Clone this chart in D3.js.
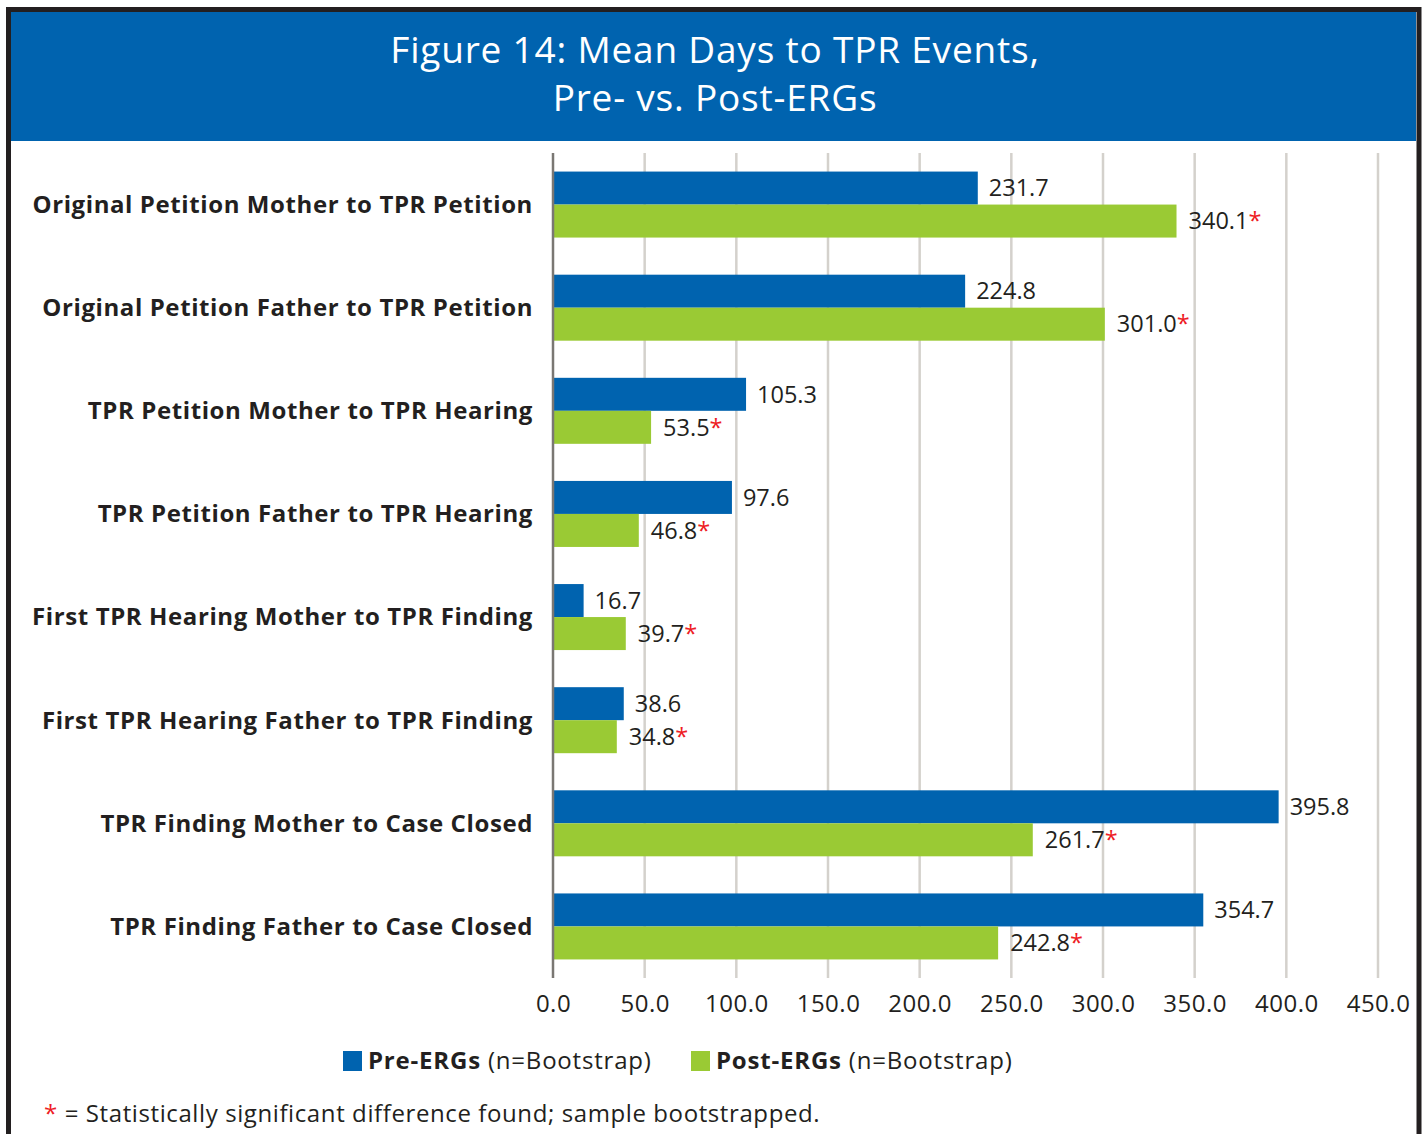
<!DOCTYPE html>
<html>
<head>
<meta charset="utf-8">
<script src="https://cdn.jsdelivr.net/npm/d3@7"></script>
<style>
  body { margin: 0; background: #fff; }
  text { font-family: "Open Sans", sans-serif; }
</style>
</head>
<body>
<svg width="1427" height="1134"></svg>
<script>
const categories = [
  "Original Petition Mother to TPR Petition",
  "Original Petition Father to TPR Petition",
  "TPR Petition Mother to TPR Hearing",
  "TPR Petition Father to TPR Hearing",
  "First TPR Hearing Mother to TPR Finding",
  "First TPR Hearing Father to TPR Finding",
  "TPR Finding Mother to Case Closed",
  "TPR Finding Father to Case Closed"
];
const preValues = [231.7, 224.8, 105.3, 97.6, 16.7, 38.6, 395.8, 354.7];
const postValues = [340.1, 301.0, 53.5, 46.8, 39.7, 34.8, 261.7, 242.8];
const postSignificant = [true, true, true, true, true, true, true, true];
const seriesNames = ["Pre-ERGs", "Post-ERGs"];
const xTicks = [0, 50, 100, 150, 200, 250, 300, 350, 400, 450];

const blue = "#0063af";
const green = "#9aca34";
const red = "#ee1c25";
const ink = "#231f20";
const width = 1427, height = 1134;
const margin = { top: 153, right: 49, bottom: 156, left: 553 };

const svg = d3.select("svg");

// frame + header
svg.append("rect").attr("x", 8.5).attr("y", 9.5).attr("width", 1410.5).attr("height", 1200)
  .attr("fill", "#fff").attr("stroke", ink).attr("stroke-width", 5);
svg.append("rect").attr("x", 11).attr("y", 12).attr("width", 1405).attr("height", 129).attr("fill", blue);
svg.append("text").attr("x", 715).attr("y", 63).attr("text-anchor", "middle").attr("letter-spacing", 0.8)
  .attr("fill", "#fff").attr("font-size", 37).text("Figure 14: Mean Days to TPR Events,");
svg.append("text").attr("x", 715).attr("y", 111).attr("text-anchor", "middle").attr("letter-spacing", 0.8)
  .attr("fill", "#fff").attr("font-size", 37).text("Pre- vs. Post-ERGs");

const x = d3.scaleLinear().domain([0, 450]).range([margin.left, width - margin.right]);
const y = d3.scaleBand().domain(categories).range([margin.top, height - margin.bottom]).paddingInner(0.36).paddingOuter(0.18);
const sub = d3.scaleBand().domain(seriesNames).range([0, y.bandwidth()]);

// gridlines
svg.append("g").selectAll("line").data(xTicks.slice(1)).enter().append("line")
  .attr("x1", d => x(d)).attr("x2", d => x(d))
  .attr("y1", margin.top).attr("y2", height - margin.bottom)
  .attr("stroke", "#d4d1cc").attr("stroke-width", 2.5);

// x tick labels
const xAxis = d3.axisBottom(x).tickValues(xTicks).tickFormat(d3.format(".1f")).tickSize(0).tickPadding(17);
const gx = svg.append("g").attr("transform", `translate(0,${height - margin.bottom})`).call(xAxis);
gx.select(".domain").remove();
gx.selectAll("text").attr("font-size", 24).attr("letter-spacing", 0.5).attr("fill", ink)
  .attr("font-family", "Open Sans, sans-serif");

const rows = categories.map((c, i) => ({ c, pre: preValues[i], post: postValues[i], sig: postSignificant[i] }));

const g = svg.append("g").selectAll("g").data(rows).enter().append("g")
  .attr("transform", d => `translate(0,${y(d.c)})`);

g.append("rect").attr("x", x(0)).attr("y", sub("Pre-ERGs"))
  .attr("width", d => x(d.pre) - x(0)).attr("height", sub.bandwidth()).attr("fill", blue);
g.append("rect").attr("x", x(0)).attr("y", sub("Post-ERGs"))
  .attr("width", d => x(d.post) - x(0)).attr("height", sub.bandwidth()).attr("fill", green);

g.append("text").attr("x", d => x(d.pre) + 11).attr("y", sub("Pre-ERGs") + sub.bandwidth() / 2)
  .attr("dy", "0.35em").attr("font-size", 23.5).attr("fill", ink).text(d => d.pre.toFixed(1));
const post = g.append("text").attr("x", d => x(d.post) + 12).attr("y", sub("Post-ERGs") + sub.bandwidth() / 2)
  .attr("dy", "0.35em").attr("font-size", 23.5).attr("fill", ink);
post.append("tspan").text(d => d.post.toFixed(1));
post.append("tspan").attr("fill", red).text(d => d.sig ? "*" : "");

// category labels
g.append("text").attr("x", margin.left - 20).attr("y", y.bandwidth() / 2)
  .attr("dy", "0.35em").attr("text-anchor", "end").attr("font-size", 24).attr("font-weight", "bold")
  .attr("letter-spacing", 0.6).attr("fill", ink).text(d => d.c);

// axis line
svg.append("line").attr("x1", x(0)).attr("x2", x(0)).attr("y1", margin.top).attr("y2", height - margin.bottom)
  .attr("stroke", "#7a7773").attr("stroke-width", 2.5);

// legend
const legend = svg.append("g");
const legX = [343, 691];
seriesNames.forEach((s, i) => {
  legend.append("rect").attr("x", legX[i]).attr("y", 1051).attr("width", 19).attr("height", 20)
    .attr("fill", i === 0 ? blue : green);
  const t = legend.append("text").attr("x", legX[i] + 25).attr("y", 1069).attr("font-size", 24)
    .attr("letter-spacing", 0.8).attr("fill", ink);
  t.append("tspan").attr("font-weight", "bold").text(s);
  t.append("tspan").text(" (n=Bootstrap)");
});

// footnote
const fn = svg.append("text").attr("x", 44).attr("y", 1122).attr("font-size", 24)
  .attr("letter-spacing", 0.6).attr("fill", ink);
fn.append("tspan").attr("fill", red).text("*");
fn.append("tspan").text(" = Statistically significant difference found; sample bootstrapped.");
</script>
</body>
</html>
